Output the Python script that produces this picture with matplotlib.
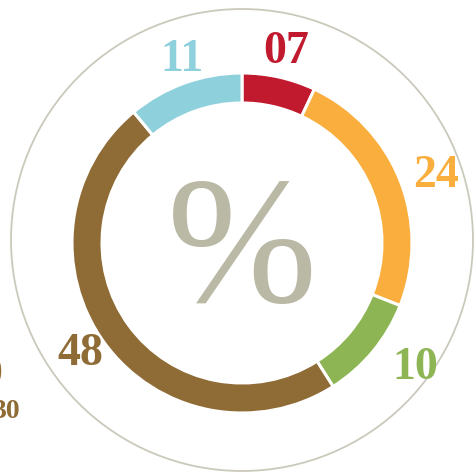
import matplotlib.pyplot as plt
from matplotlib.patches import Circle

# segment data, clockwise from 12 o'clock
labels = ['07', '24', '10', '48', '11']
values = [7, 24, 10, 48, 11]
colors = ['#c1192d', '#f9ae3d', '#8db553', '#8f6b35', '#8ed0dc']

W, H = 474, 476
fig = plt.figure(figsize=(W / 100, H / 100), dpi=100)
ax = fig.add_axes([0, 0, 1, 1])

# thin outer ring
ax.add_patch(Circle((242, H - 240), 231, fill=False, ec='#cbc9bb', lw=1.3))

ax.pie(values, colors=colors, radius=170, center=(242, H - 243),
       startangle=90, counterclock=False,
       wedgeprops=dict(width=30, edgecolor='white', linewidth=2.2))

ax.set_xlim(0, W)
ax.set_ylim(0, H)
ax.set_aspect('equal')
ax.axis('off')

serif = ['Liberation Serif', 'DejaVu Serif']
label_pos = [(286, 52), (436, 176), (415, 368), (80, 354), (182, 60)]
for lab, c, (x, y) in zip(labels, colors, label_pos):
    ax.text(x, H - y, lab, color=c, fontsize=33, fontweight='bold',
            family=serif, ha='center', va='center')

# cut-off text from the neighbouring graphic at the left edge
ax.text(-8, H - 375, '0', color='#8f6b35', fontsize=30, fontweight='bold',
        family=serif, ha='center', va='center')
ax.text(7, H - 412, '30', color='#8f6b35', fontsize=20, fontweight='bold',
        family=serif, ha='center', va='center')

ax.text(242, H - 258, '%', color='#bab9a5', fontsize=130, family=serif,
        ha='center', va='center')

fig.savefig('out.png', dpi=100)
